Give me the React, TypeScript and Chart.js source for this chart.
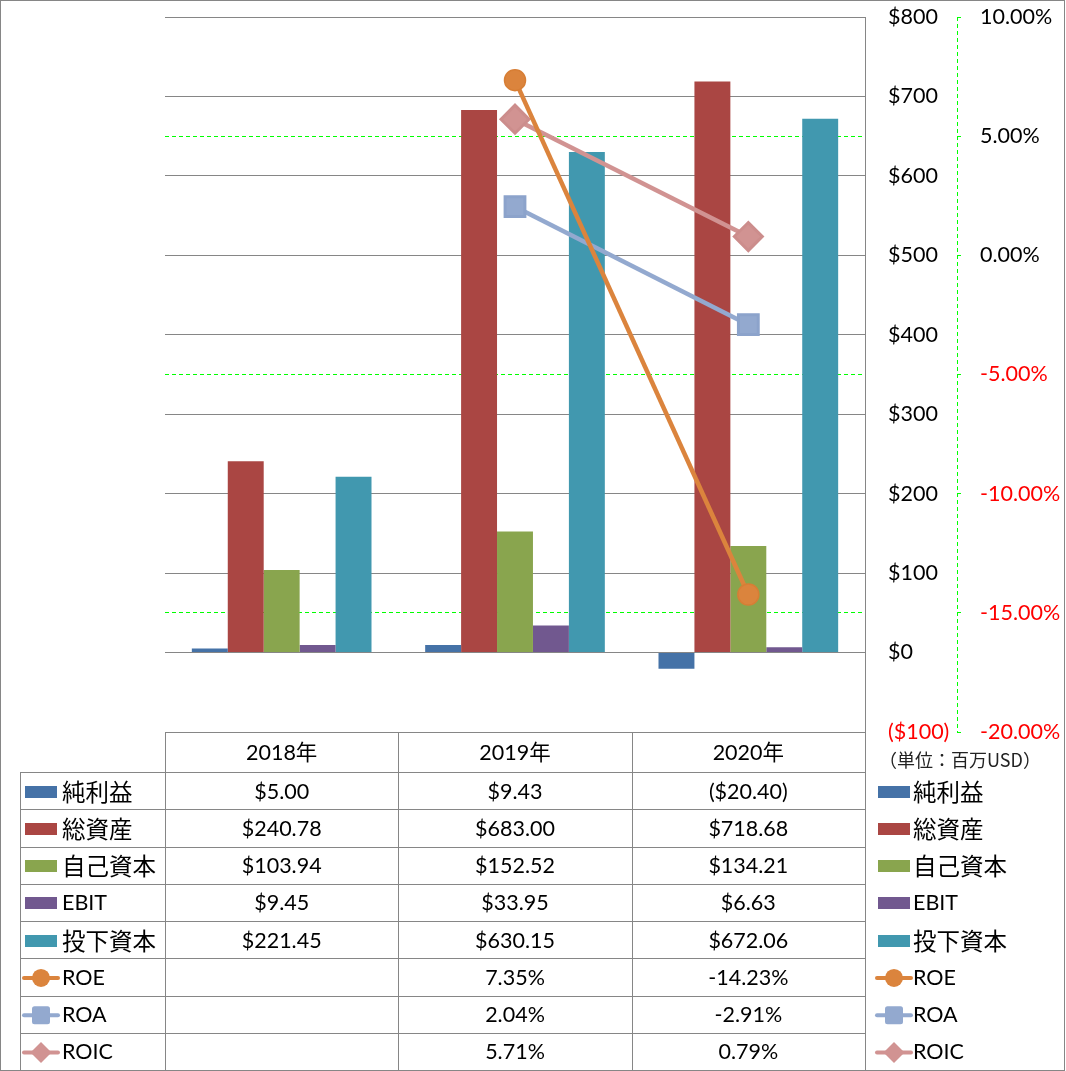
import React, { useEffect, useRef } from 'react';
import { Chart, registerables } from 'chart.js';

Chart.register(...registerables);

// ---- data ----
const years = ['2018年', '2019年', '2020年'];
const netIncome = [5.0, 9.43, -20.4];
const totalAssets = [240.78, 683.0, 718.68];
const equity = [103.94, 152.52, 134.21];
const ebit = [9.45, 33.95, 6.63];
const investedCapital = [221.45, 630.15, 672.06];
const roe: (number | null)[] = [null, 7.35, -14.23];
const roa: (number | null)[] = [null, 2.04, -2.91];
const roic: (number | null)[] = [null, 5.71, 0.79];
const moneyAxis = { min: -100, max: 800, step: 100 };
const pctAxis = { min: -20, max: 10, step: 5 };
const unitLabel = '（単位：百万USD）';

const barSeries = [
  { label: '純利益', data: netIncome, color: '#4572A7' },
  { label: '総資産', data: totalAssets, color: '#AA4643' },
  { label: '自己資本', data: equity, color: '#89A54E' },
  { label: 'EBIT', data: ebit, color: '#71588F' },
  { label: '投下資本', data: investedCapital, color: '#4198AF' },
];
const lineSeries = [
  { label: 'ROE', data: roe, color: '#DB843D', border: '#D77E35', style: 'circle' },
  { label: 'ROA', data: roa, color: '#93A9CF', border: '#8CA3CB', style: 'rect' },
  { label: 'ROIC', data: roic, color: '#D19392', border: '#CC8D8C', style: 'rectRot' },
];

const W = 1066;
const H = 1071;
const GRAY = '#868686';
const GREEN = '#00ff00';
const FONT = 'Lato, "Noto Sans CJK JP", sans-serif';
const CJK = '"Noto Sans CJK JP", sans-serif';

const fmtMoney = (v: number) => (v < 0 ? `($${Math.abs(v).toFixed(2)})` : `$${v.toFixed(2)}`);
const fmtPct = (v: number | null) => (v == null ? '' : `${v.toFixed(2)}%`);

type Row = { label: string; kind: 'bar' | 'line'; color: string; style?: string; cells: string[] };
const rows: Row[] = [
  ...barSeries.map((s) => ({ label: s.label, kind: 'bar' as const, color: s.color, cells: s.data.map(fmtMoney) })),
  ...lineSeries.map((s) => ({ label: s.label, kind: 'line' as const, color: s.color, style: s.style, cells: s.data.map(fmtPct) })),
];

const isCJK = (s: string) => /[\u3000-\u9fff\uff00-\uffef]/.test(s);

function drawMarker(ctx: CanvasRenderingContext2D, style: string, cx: number, cy: number, color: string) {
  ctx.fillStyle = color;
  ctx.beginPath();
  if (style === 'circle') {
    ctx.arc(cx, cy, 9, 0, Math.PI * 2);
  } else if (style === 'rect') {
    const s = 9;
    const r = 2.5;
    ctx.moveTo(cx - s + r, cy - s);
    ctx.arcTo(cx + s, cy - s, cx + s, cy + s, r);
    ctx.arcTo(cx + s, cy + s, cx - s, cy + s, r);
    ctx.arcTo(cx - s, cy + s, cx - s, cy - s, r);
    ctx.arcTo(cx - s, cy - s, cx + s, cy - s, r);
    ctx.closePath();
  } else {
    const r = 10.5;
    ctx.moveTo(cx, cy - r);
    ctx.lineTo(cx + r, cy);
    ctx.lineTo(cx, cy + r);
    ctx.lineTo(cx - r, cy);
    ctx.closePath();
  }
  ctx.fill();
}

function drawKey(ctx: CanvasRenderingContext2D, row: Row, x0: number, cy: number) {
  if (row.kind === 'bar') {
    ctx.fillStyle = row.color;
    ctx.fillRect(x0, Math.round(cy - 6), 32, 12);
  } else {
    ctx.strokeStyle = row.color;
    ctx.lineWidth = 4;
    ctx.lineCap = 'round';
    ctx.beginPath();
    ctx.moveTo(x0 - 1, cy);
    ctx.lineTo(x0 + 33, cy);
    ctx.stroke();
    drawMarker(ctx, row.style || 'circle', x0 + 16, cy, row.color);
  }
}

function drawLabel(ctx: CanvasRenderingContext2D, text: string, x: number, cy: number) {
  ctx.fillStyle = '#000';
  ctx.textAlign = 'left';
  ctx.textBaseline = 'middle';
  ctx.font = isCJK(text) ? `23.5px ${CJK}` : `21.5px ${FONT}`;
  ctx.fillText(text, x, cy);
}

const tablePlugin = {
  id: 'dataTable',
  afterDraw(chart: any) {
    const ctx: CanvasRenderingContext2D = chart.ctx;
    const area = chart.chartArea;
    const y2 = chart.scales.y2;
    ctx.save();
    ctx.setLineDash([]);
    ctx.globalAlpha = 1;

    // secondary axis dashed line (drawn as 1px dash rectangles)
    const ax = Math.round(y2.left);
    ctx.fillStyle = GREEN;
    for (let y = Math.round(area.top); y < area.bottom; y += 7) {
      ctx.fillRect(ax, y, 1, Math.min(4, area.bottom + 1 - y));
    }

    // table
    const right = Math.round(area.right);
    const colW = (area.right - area.left) / years.length;
    const top = Math.round(area.bottom);
    const headerBottom = top + 40;
    const bottom = H - 1;
    const rowH = (bottom - headerBottom) / rows.length;
    const catLeft = 20;

    ctx.strokeStyle = GRAY;
    ctx.lineWidth = 1;
    ctx.beginPath();
    for (let i = 0; i <= rows.length; i++) {
      const y = Math.round(headerBottom + i * rowH) + 0.5;
      ctx.moveTo(catLeft, y);
      ctx.lineTo(right + 1, y);
    }
    ctx.moveTo(catLeft + 0.5, headerBottom);
    ctx.lineTo(catLeft + 0.5, bottom);
    for (let i = 0; i <= years.length; i++) {
      const x = Math.round(area.left + i * colW) + 0.5;
      ctx.moveTo(x, top);
      ctx.lineTo(x, bottom);
    }
    ctx.stroke();

    // header
    ctx.fillStyle = '#000';
    ctx.textAlign = 'center';
    ctx.textBaseline = 'middle';
    ctx.font = `21.5px ${FONT}`;
    years.forEach((yr, i) => {
      ctx.fillText(yr, area.left + (i + 0.5) * colW, (top + headerBottom) / 2 + 1);
    });

    rows.forEach((row, r) => {
      const cy = headerBottom + (r + 0.5) * rowH + 1;
      ctx.font = `21.5px ${FONT}`;
      ctx.fillStyle = '#000';
      ctx.textAlign = 'center';
      row.cells.forEach((c, i) => {
        if (c) ctx.fillText(c, area.left + (i + 0.5) * colW, cy);
      });
      drawKey(ctx, row, 25, cy);
      drawLabel(ctx, row.label, 62, cy);
      drawKey(ctx, row, 878, cy);
      drawLabel(ctx, row.label, 913, cy);
    });

    // unit label
    ctx.fillStyle = '#222';
    ctx.textAlign = 'left';
    ctx.textBaseline = 'middle';
    ctx.font = `18px ${CJK}`;
    ctx.fillText(unitLabel, 879, top + 28);

    // outer border
    ctx.strokeStyle = GRAY;
    ctx.lineWidth = 1;
    ctx.strokeRect(0.5, 0.5, W - 2, H - 1);
    ctx.restore();
  },
};

export default function App() {
  const ref = useRef<HTMLCanvasElement | null>(null);
  useEffect(() => {
    if (!ref.current) return;
    const chart = new Chart(ref.current, {
      type: 'bar',
      data: {
        labels: years,
        datasets: [
          ...lineSeries.map((s) => ({
            type: 'line' as const,
            label: s.label,
            data: s.data,
            yAxisID: 'y2',
            borderColor: s.color,
            backgroundColor: s.color,
            borderWidth: 4.5,
            tension: 0,
            pointStyle: s.style,
            pointRadius: s.style === 'circle' ? 10.5 : 14,
            pointBackgroundColor: s.color,
            pointBorderColor: s.border,
            pointBorderWidth: s.style === 'circle' ? 1.5 : 3,
            borderJoinStyle: 'round' as const,
            order: 0,
          })),
          ...barSeries.map((s) => ({
            type: 'bar' as const,
            label: s.label,
            data: s.data,
            yAxisID: 'y',
            backgroundColor: s.color,
            categoryPercentage: 0.77,
            barPercentage: 1,
            order: 1,
          })),
        ] as any,
      },
      options: {
        responsive: false,
        animation: false,
        devicePixelRatio: 1,
        layout: { padding: { left: 165, top: 15, bottom: H - 732, right: 0 } },
        plugins: { legend: { display: false }, tooltip: { enabled: false } },
        scales: {
          x: { display: false, offset: true },
          y: {
            position: 'right',
            min: moneyAxis.min,
            max: moneyAxis.max,
            ticks: {
              stepSize: moneyAxis.step,
              padding: 23,
              font: { family: FONT, size: 21.5 },
              color: (c: any) => (c.tick && c.tick.value < 0 ? '#ff0000' : '#000000'),
              callback: (v: any) => (v < 0 ? `($${Math.abs(v)})` : `$${v}`),
            },
            grid: { color: GRAY, lineWidth: 1, drawTicks: false, z: -1 },
            border: { display: true, color: GRAY, width: 1 },
            afterFit: (s: any) => {
              s.width = 92;
              s.paddingTop = 0;
              s.paddingBottom = 0;
            },
          },
          y2: {
            position: 'right',
            min: pctAxis.min,
            max: pctAxis.max,
            ticks: {
              stepSize: pctAxis.step,
              padding: 18,
              font: { family: FONT, size: 21.5 },
              color: (c: any) => (c.tick && c.tick.value < 0 ? '#ff0000' : '#000000'),
              callback: (v: any) => `${Number(v).toFixed(2)}%`,
            },
            grid: {
              color: GREEN,
              lineWidth: 1,
              drawTicks: true,
              tickLength: 5,
              tickColor: GREEN,
              tickBorderDash: [4, 3],
              z: -2,
            },
            border: { display: false, dash: [4, 3] },
            afterFit: (s: any) => {
              s.width = W - 865 - 92;
              s.paddingTop = 0;
              s.paddingBottom = 0;
            },
          },
        },
      } as any,
      plugins: [tablePlugin],
    });
    return () => chart.destroy();
  }, []);

  return (
    <div style={{ position: 'absolute', left: 0, top: 0, width: W, height: H, background: '#fff' }}>
      <canvas ref={ref} width={W} height={H} style={{ display: 'block', width: W, height: H }} />
    </div>
  );
}
